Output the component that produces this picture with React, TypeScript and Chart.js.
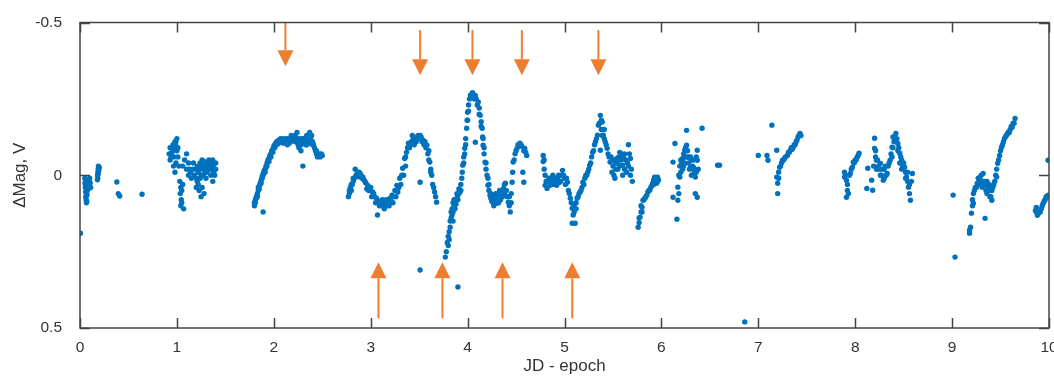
import React, { useEffect, useRef } from "react";
import { Chart, registerables } from "chart.js";

Chart.register(...registerables);

type P = [number, number];

// ---- data: [JD - epoch, delta mag V] ----
const night0: P[] = [
  [0.005, 0.19],
  [0.05, 0.01], [0.052, 0.025], [0.055, 0.04], [0.058, 0.055], [0.06, 0.07], [0.063, 0.08], [0.066, 0.09],
  [0.07, 0.085], [0.072, 0.065], [0.075, 0.05], [0.078, 0.035], [0.08, 0.02], [0.085, 0.045], [0.09, 0.03],
  [0.095, 0.02], [0.1, 0.01], [0.105, 0.025], [0.11, 0.04], [0.06, 0.02], [0.065, 0.035],
  [0.057, 0.03], [0.068, 0.06], [0.092, 0.04],
  [0.18, 0.015], [0.182, 0.0], [0.185, -0.01], [0.188, -0.02], [0.19, -0.03], [0.193, -0.015], [0.2, -0.025],
  [0.183, 0.01], [0.187, -0.005],
  [0.38, 0.022], [0.395, 0.06], [0.41, 0.068], [0.64, 0.062],
];

const night1: P[] = [
  [0.92, -0.07], [0.93, -0.09], [0.94, -0.06], [0.95, -0.075], [0.96, -0.1], [0.97, -0.085], [0.98, -0.11],
  [0.99, -0.095], [1.0, -0.12], [1.0, -0.08], [0.965, -0.03], [0.98, -0.01], [0.99, -0.04], [1.01, -0.06],
  [1.02, -0.03], [1.03, 0.02], [1.04, 0.04], [1.035, 0.06], [1.045, 0.08], [1.04, 0.1], [1.05, 0.05],
  [1.06, 0.03], [1.07, 0.11], [1.05, 0.09], [1.06, -0.03], [1.08, -0.05], [1.1, -0.07], [1.12, -0.04],
  [1.1, -0.02], [1.14, -0.01], [1.12, 0.0], [1.16, -0.02], [1.18, 0.0], [1.2, 0.01], [1.22, -0.01],
  [1.24, -0.04], [1.26, -0.05], [1.28, -0.045], [1.3, -0.03], [1.32, -0.02], [1.34, -0.03], [1.36, -0.04],
  [1.38, -0.035], [1.4, -0.02], [1.39, 0.0], [1.35, 0.0], [1.3, 0.01], [1.25, 0.0], [1.21, 0.02],
  [1.27, -0.02], [1.33, -0.05], [1.23, 0.05], [1.25, 0.07], [1.28, 0.06], [1.37, 0.02], [1.2, 0.04],
  [1.15, 0.01], [1.17, -0.04], [1.29, -0.01], [1.31, -0.04], [1.36, -0.02], [1.19, -0.02],
  [0.93, -0.05], [0.95, -0.09], [0.97, -0.06], [0.99, -0.11], [1.01, -0.09], [1.13, -0.02], [1.21, -0.03],
  [1.23, -0.02], [1.26, -0.03], [1.27, 0.0], [1.29, -0.04], [1.31, -0.01], [1.33, -0.03], [1.35, -0.02],
  [1.37, -0.05], [1.38, -0.01], [1.4, -0.04], [1.24, 0.01], [1.22, 0.03], [1.26, 0.04],
];

const night2: P[] = [
  [1.8, 0.09], [1.8, 0.1], [1.81, 0.08], [1.82, 0.07], [1.82, 0.075], [1.83, 0.06], [1.84, 0.05], [1.84, 0.04],
  [1.85, 0.035], [1.86, 0.025], [1.86, 0.03], [1.87, 0.015], [1.88, 0.005], [1.88, 0.01], [1.89, -0.005],
  [1.9, -0.015], [1.9, -0.01], [1.91, -0.02], [1.92, -0.03], [1.92, -0.025], [1.93, -0.04], [1.94, -0.045],
  [1.94, -0.05], [1.95, -0.055], [1.96, -0.06], [1.96, -0.065], [1.97, -0.07], [1.98, -0.075], [1.98, -0.08],
  [1.99, -0.085], [2.0, -0.09], [2.0, -0.095], [2.01, -0.1], [2.02, -0.1], [2.02, -0.105], [2.03, -0.11],
  [2.04, -0.105], [2.04, -0.11], [2.05, -0.115], [2.06, -0.11], [2.06, -0.115], [2.07, -0.12], [2.08, -0.115],
  [2.09, -0.11], [2.1, -0.12], [2.1, -0.105], [2.12, -0.115], [2.14, -0.1], [2.14, -0.11], [2.15, -0.12],
  [2.16, -0.105], [2.18, -0.13], [2.18, -0.12], [2.2, -0.115], [2.2, -0.125], [2.22, -0.13], [2.22, -0.11],
  [2.24, -0.14], [2.24, -0.12], [2.25, -0.1], [2.26, -0.12], [2.26, -0.09], [2.28, -0.08], [2.28, -0.1],
  [2.3, -0.03], [2.3, -0.11], [2.31, -0.12], [2.32, -0.11], [2.34, -0.13], [2.34, -0.1], [2.36, -0.105],
  [2.37, -0.14], [2.38, -0.12], [2.4, -0.1], [2.4, -0.11], [2.42, -0.09], [2.44, -0.08], [2.44, -0.07],
  [2.45, -0.06], [2.46, -0.065], [2.48, -0.06], [2.49, -0.07], [1.89, 0.12],
  [1.81, 0.09], [1.83, 0.07], [1.85, 0.045], [1.87, 0.025], [1.89, 0.0], [1.91, -0.01], [1.93, -0.03],
  [1.95, -0.045], [1.97, -0.06], [1.99, -0.075], [2.01, -0.09], [2.03, -0.1], [2.05, -0.105], [2.11, -0.11],
  [2.13, -0.12], [2.17, -0.11], [2.19, -0.115], [2.21, -0.12], [2.23, -0.115], [2.27, -0.11], [2.29, -0.12],
  [2.33, -0.1], [2.35, -0.115], [2.39, -0.13], [2.41, -0.1], [2.43, -0.08], [2.47, -0.07], [2.5, -0.065],
];

const night3: P[] = [
  [2.77, 0.07], [2.78, 0.06], [2.79, 0.04], [2.8, 0.05], [2.81, 0.03], [2.82, 0.02], [2.83, 0.01],
  [2.84, -0.02], [2.85, 0.0], [2.86, -0.005], [2.88, -0.01], [2.89, -0.006], [2.9, 0.0], [2.91, 0.01],
  [2.92, 0.006], [2.93, 0.015], [2.95, 0.025], [2.97, 0.033], [2.99, 0.045], [3.0, 0.04], [3.02, 0.055],
  [3.04, 0.07], [3.06, 0.075], [3.07, 0.13], [3.08, 0.085], [3.1, 0.09], [3.11, 0.1], [3.13, 0.088],
  [3.14, 0.11], [3.15, 0.095], [3.16, 0.08], [3.18, 0.082], [3.19, 0.1], [3.2, 0.075], [3.22, 0.065],
  [3.23, 0.09], [3.25, 0.05], [3.26, 0.07], [3.27, 0.033], [3.28, 0.055], [3.3, 0.01], [3.31, 0.03],
  [3.33, -0.023], [3.34, 0.0], [3.35, -0.055], [3.36, -0.03], [3.37, -0.075], [3.39, -0.105], [3.4, -0.09],
  [3.42, -0.11], [3.44, -0.12], [3.46, -0.115], [3.48, -0.125], [3.5, -0.12], [3.51, -0.13], [3.51, 0.023],
  [3.52, -0.125], [3.54, -0.115], [3.55, -0.1], [3.56, -0.11], [3.58, -0.098], [3.59, -0.07], [3.6, -0.08],
  [3.61, -0.043], [3.62, -0.02], [3.63, 0.0], [3.64, 0.03], [3.66, 0.055], [3.67, 0.07], [3.68, 0.088],
  [2.78, 0.05], [2.8, 0.03], [2.82, 0.01], [2.87, 0.005], [2.94, 0.02], [2.96, 0.045], [2.98, 0.05],
  [3.01, 0.07], [3.03, 0.06], [3.05, 0.09], [3.09, 0.1], [3.12, 0.08], [3.14, 0.095], [3.17, 0.1],
  [3.21, 0.085], [3.24, 0.07], [3.29, 0.04], [3.32, 0.0], [3.36, -0.06], [3.38, -0.09], [3.41, -0.1],
  [3.43, -0.13], [3.45, -0.1], [3.47, -0.11], [3.49, -0.13], [3.53, -0.11], [3.57, -0.09], [3.6, -0.05],
  [3.62, -0.01], [3.65, 0.04],
  [3.51, 0.31], [3.9, 0.366],
];

const night4: P[] = [
  [3.77, 0.268], [3.78, 0.25], [3.79, 0.22], [3.8, 0.2], [3.81, 0.185], [3.82, 0.17], [3.82, 0.15],
  [3.83, 0.14], [3.83, 0.12], [3.84, 0.11], [3.85, 0.09], [3.85, 0.12], [3.86, 0.1], [3.87, 0.085],
  [3.88, 0.08], [3.89, 0.075], [3.9, 0.065], [3.91, 0.06], [3.92, 0.055], [3.93, 0.03], [3.94, 0.01],
  [3.945, -0.01], [3.95, -0.033], [3.96, -0.06], [3.97, -0.088], [3.98, -0.12], [3.99, -0.154], [3.995, -0.18],
  [4.0, -0.206], [4.01, -0.23], [4.02, -0.25], [4.03, -0.262], [4.05, -0.27], [4.06, -0.265], [4.08, -0.26],
  [4.09, -0.25], [4.11, -0.24], [4.12, -0.22], [4.13, -0.196], [4.14, -0.175], [4.15, -0.154], [4.155, -0.125],
  [4.16, -0.098], [4.17, -0.07], [4.18, -0.043], [4.19, -0.02], [4.2, 0.0], [4.21, 0.033], [4.22, 0.05],
  [4.23, 0.065], [4.24, 0.075], [4.26, 0.088], [4.27, 0.07], [4.28, 0.08], [4.3, 0.092], [4.31, 0.075],
  [4.33, 0.065], [4.34, 0.08], [4.35, 0.05], [4.37, 0.043], [4.38, 0.06], [4.39, 0.026], [4.4, 0.05],
  [4.42, 0.088], [4.43, 0.07], [4.44, 0.12], [4.45, 0.06], [4.46, 0.023], [4.465, -0.01], [4.47, -0.043],
  [4.49, -0.07], [4.51, -0.088], [4.53, -0.095], [4.54, -0.105], [4.56, -0.095], [4.57, -0.01], [4.58, 0.023],
  [4.59, -0.088], [4.6, -0.075], [4.61, -0.065], [4.08, -0.108],
  [3.8, 0.23], [3.81, 0.21], [3.84, 0.13], [3.85, 0.15], [3.86, 0.08], [3.87, 0.11], [3.88, 0.095],
  [3.89, 0.06], [3.9, 0.08], [3.91, 0.045], [3.93, 0.05], [3.96, -0.04], [3.97, -0.07], [3.98, -0.1],
  [4.0, -0.18], [4.01, -0.21], [4.04, -0.255], [4.07, -0.25], [4.1, -0.23], [4.12, -0.2], [4.14, -0.16],
  [4.16, -0.12], [4.17, -0.09], [4.19, -0.04], [4.21, 0.01], [4.22, 0.03], [4.24, 0.06], [4.25, 0.085],
  [4.27, 0.1], [4.29, 0.06], [4.32, 0.09], [4.33, 0.05], [4.36, 0.07], [4.38, 0.03], [4.41, 0.07],
  [4.43, 0.1], [4.45, 0.09], [4.48, -0.05], [4.5, -0.08], [4.52, -0.1], [4.55, -0.1], [4.58, -0.08],
];

const night5: P[] = [
  [4.78, -0.065], [4.78, -0.045], [4.79, -0.02], [4.8, 0.0], [4.8, 0.033], [4.82, 0.043], [4.83, 0.02],
  [4.85, 0.033], [4.86, 0.01], [4.88, 0.0], [4.9, 0.02], [4.92, 0.033], [4.93, 0.01], [4.95, 0.023],
  [4.97, 0.0], [4.98, -0.016], [5.0, 0.01], [5.03, 0.023], [5.04, 0.05], [5.06, 0.075], [5.07, 0.09],
  [5.08, 0.108], [5.08, 0.157], [5.1, 0.12], [5.11, 0.157], [5.12, 0.09], [5.13, 0.075], [5.15, 0.06],
  [5.16, 0.055], [5.18, 0.04], [5.19, 0.023], [5.21, 0.01], [5.23, 0.0], [5.25, -0.02], [5.26, -0.033],
  [5.28, -0.06], [5.29, -0.075], [5.31, -0.1], [5.33, -0.12], [5.34, -0.131], [5.35, -0.164], [5.37, -0.196],
  [5.37, -0.082], [5.38, -0.18], [5.39, -0.174], [5.4, -0.131], [5.41, -0.15], [5.42, -0.11], [5.44, -0.088],
  [5.45, -0.07], [5.47, -0.043], [5.48, -0.06], [5.49, -0.01], [5.5, -0.03], [5.52, 0.01], [5.53, -0.02],
  [5.54, -0.055], [5.55, -0.04], [5.57, -0.075], [5.58, -0.05], [5.6, -0.033], [5.61, -0.06], [5.62, -0.02],
  [5.64, -0.01], [5.65, -0.04], [5.66, -0.1], [5.67, -0.07], [5.68, -0.055], [5.69, -0.02], [5.7, 0.02],
  [4.79, -0.05], [4.81, 0.02], [4.84, 0.01], [4.87, 0.02], [4.89, 0.03], [4.91, 0.01], [4.94, 0.0],
  [4.96, 0.02], [4.99, 0.0], [5.01, 0.03], [5.02, 0.01], [5.05, 0.06], [5.09, 0.13], [5.1, 0.1],
  [5.12, 0.11], [5.14, 0.07], [5.17, 0.05], [5.2, 0.03], [5.22, 0.0], [5.24, -0.01], [5.27, -0.04],
  [5.3, -0.08], [5.32, -0.11], [5.36, -0.17], [5.38, -0.15], [5.39, -0.13], [5.41, -0.12], [5.43, -0.1],
  [5.46, -0.06], [5.5, -0.05], [5.51, 0.0], [5.53, -0.04], [5.56, -0.06], [5.57, -0.03], [5.59, -0.07],
  [5.6, 0.0], [5.63, -0.05], [5.66, -0.03], [5.68, 0.0], [5.62, -0.07], [5.55, -0.02],
];

const night6: P[] = [
  [5.76, 0.17], [5.77, 0.155], [5.78, 0.137], [5.79, 0.12], [5.8, 0.105], [5.81, 0.082], [5.83, 0.075],
  [5.85, 0.065], [5.86, 0.055], [5.88, 0.049], [5.9, 0.035], [5.91, 0.026], [5.92, 0.015], [5.93, 0.006],
  [5.95, 0.026], [5.96, 0.006], [5.97, 0.015],
  [5.77, 0.14], [5.79, 0.1], [5.8, 0.12], [5.82, 0.08], [5.84, 0.07], [5.87, 0.05], [5.89, 0.04],
  [5.92, 0.03], [5.94, 0.01], [5.96, 0.02],
  [6.12, 0.072], [6.12, -0.043], [6.14, -0.104], [6.16, 0.144], [6.17, 0.082], [6.17, 0.039], [6.18, 0.06],
  [6.19, 0.006], [6.2, -0.01], [6.21, -0.039], [6.22, -0.055], [6.23, -0.03], [6.24, -0.082], [6.25, -0.06],
  [6.26, -0.098], [6.26, -0.147], [6.27, -0.059], [6.28, -0.04], [6.3, -0.026], [6.31, -0.05], [6.33, -0.026],
  [6.34, -0.01], [6.35, 0.006], [6.35, 0.06], [6.37, -0.049], [6.37, -0.082], [6.37, 0.072], [6.38, -0.02],
  [6.18, 0.0], [6.19, -0.03], [6.2, -0.05], [6.22, -0.02], [6.23, -0.07], [6.24, -0.04], [6.25, -0.09],
  [6.27, -0.08], [6.28, -0.06], [6.29, -0.02], [6.3, -0.06], [6.31, 0.0], [6.32, -0.03], [6.33, -0.05],
  [6.34, -0.02], [6.36, -0.01], [6.36, -0.06],
  [6.42, -0.154], [6.58, -0.033], [6.6, -0.033],
];

const night7: P[] = [
  [6.86, 0.48], [7.0, -0.065], [7.09, -0.065], [7.1, -0.049], [7.14, -0.164], [7.19, -0.082], [7.19, 0.006],
  [7.2, 0.026], [7.2, 0.06], [7.21, -0.01], [7.22, -0.026], [7.24, -0.04], [7.25, -0.049], [7.27, -0.055],
  [7.3, -0.065], [7.31, -0.075], [7.33, -0.082], [7.35, -0.085], [7.36, -0.092], [7.38, -0.1], [7.4, -0.115],
  [7.41, -0.125], [7.43, -0.137], [7.44, -0.13],
  [7.21, 0.01], [7.23, -0.03], [7.26, -0.05], [7.28, -0.06], [7.32, -0.075], [7.34, -0.09], [7.37, -0.1],
  [7.39, -0.11], [7.42, -0.13],
];

const night8: P[] = [
  [7.89, -0.01], [7.89, 0.006], [7.91, 0.016], [7.91, 0.072], [7.92, 0.03], [7.93, 0.06], [7.95, -0.006],
  [7.97, -0.026], [7.98, -0.043], [8.0, -0.05], [8.02, -0.059], [8.04, -0.072], [8.12, 0.043], [8.13, -0.023],
  [8.17, 0.016], [8.18, 0.049], [8.2, -0.121], [8.2, -0.088], [8.21, -0.06], [8.22, -0.049], [8.24, -0.03],
  [8.26, -0.039], [8.27, 0.0], [8.29, 0.016], [8.3, -0.02], [8.33, -0.006], [8.34, -0.03], [8.36, -0.049],
  [8.37, -0.07], [8.38, -0.092], [8.39, -0.125], [8.4, -0.11], [8.42, -0.137], [8.43, -0.12], [8.44, -0.104],
  [8.45, -0.09], [8.46, -0.072], [8.47, -0.06], [8.48, -0.049], [8.49, -0.03], [8.51, -0.026], [8.52, -0.01],
  [8.53, 0.006], [8.54, 0.02], [8.55, 0.039], [8.56, 0.06], [8.57, 0.082], [8.59, -0.006],
  [7.9, 0.0], [7.92, 0.05], [7.94, 0.0], [7.96, -0.02], [7.99, -0.04], [8.01, -0.05], [8.03, -0.065],
  [8.19, -0.03], [8.21, -0.08], [8.22, -0.02], [8.23, -0.05], [8.25, -0.02], [8.26, 0.0], [8.28, -0.02],
  [8.3, 0.01], [8.31, -0.03], [8.32, 0.0], [8.35, -0.04], [8.38, -0.06], [8.39, -0.09], [8.41, -0.12],
  [8.42, -0.11], [8.44, -0.08], [8.46, -0.04], [8.48, -0.02], [8.5, -0.04], [8.52, 0.01], [8.54, -0.01],
  [8.56, 0.03], [8.58, 0.02],
];

const night9: P[] = [
  [9.01, 0.065], [9.03, 0.268], [9.18, 0.18], [9.18, 0.19], [9.2, 0.124], [9.21, 0.1], [9.22, 0.092],
  [9.22, 0.06], [9.24, 0.04], [9.26, 0.026], [9.28, 0.015], [9.29, 0.006], [9.3, 0.03], [9.31, 0.039],
  [9.32, -0.006], [9.33, 0.02], [9.34, 0.141], [9.36, 0.06], [9.37, 0.04], [9.39, 0.049], [9.4, 0.07],
  [9.41, 0.082], [9.42, 0.039], [9.44, 0.02], [9.46, 0.006], [9.47, -0.039], [9.49, -0.065], [9.51, -0.092],
  [9.53, -0.11], [9.55, -0.125], [9.57, -0.135], [9.58, -0.141], [9.6, -0.15], [9.62, -0.157], [9.63, -0.17],
  [9.65, -0.186],
  [9.19, 0.17], [9.21, 0.08], [9.23, 0.05], [9.25, 0.04], [9.27, 0.01], [9.29, 0.03], [9.3, 0.0],
  [9.32, 0.02], [9.34, 0.03], [9.35, 0.05], [9.36, 0.02], [9.38, 0.03], [9.39, 0.07], [9.41, 0.05],
  [9.43, 0.03], [9.45, 0.0], [9.46, -0.02], [9.48, -0.05], [9.5, -0.08], [9.52, -0.1], [9.54, -0.12],
  [9.56, -0.13], [9.59, -0.14], [9.61, -0.16], [9.64, -0.17],
];

const night10: P[] = [
  [9.86, 0.115], [9.87, 0.12], [9.88, 0.131], [9.9, 0.12], [9.91, 0.12], [9.93, 0.1], [9.94, 0.092],
  [9.96, 0.08], [9.98, 0.072], [9.99, -0.049],
  [9.87, 0.105], [9.89, 0.125], [9.92, 0.11], [9.95, 0.085], [9.97, 0.07], [9.99, 0.065],
];

const xTicks = [0, 1, 2, 3, 4, 5, 6, 7, 8, 9, 10];
const yTicks = [-0.5, 0, 0.5];

// arrows (x position, tail magnitude, tip magnitude)
const arrowsDownX = [2.12, 3.51, 4.05, 4.56, 5.35];
const arrowsDownTail = [-0.5, -0.475, -0.475, -0.475, -0.475];
const arrowsDownTip = [-0.357, -0.327, -0.327, -0.327, -0.327];
const arrowsUpX = [3.08, 3.74, 4.36, 5.08];
const arrowsUpTail = [0.468, 0.468, 0.468, 0.468];
const arrowsUpTip = [0.285, 0.285, 0.285, 0.285];

const BLUE = "rgb(0,114,189)";
const ORANGE = "#ED7D31";
const FONT = "'Liberation Sans', Arial, sans-serif";

const overlay = {
  id: "overlay",
  afterDatasetsDraw(chart: any) {
    const { ctx, chartArea: a, scales } = chart;
    const x = scales.x;
    const y = scales.y;
    ctx.save();
    const drawArrow = (xv: number, tv: number, hv: number) => {
      const px = x.getPixelForValue(xv);
      const p0 = y.getPixelForValue(tv);
      const p1 = y.getPixelForValue(hv);
      const dir = Math.sign(p1 - p0);
      const head = 16;
      const hw = 8;
      ctx.strokeStyle = ORANGE;
      ctx.fillStyle = ORANGE;
      ctx.lineWidth = 2;
      ctx.beginPath();
      ctx.moveTo(px, p0);
      ctx.lineTo(px, p1 - dir * head);
      ctx.stroke();
      ctx.beginPath();
      ctx.moveTo(px - hw, p1 - dir * head);
      ctx.lineTo(px + hw, p1 - dir * head);
      ctx.lineTo(px, p1);
      ctx.closePath();
      ctx.fill();
    };
    arrowsDownX.forEach((v, i) => drawArrow(v, arrowsDownTail[i], arrowsDownTip[i]));
    arrowsUpX.forEach((v, i) => drawArrow(v, arrowsUpTail[i], arrowsUpTip[i]));

    ctx.strokeStyle = "#444";
    ctx.lineWidth = 1.5;
    ctx.strokeRect(a.left, a.top, a.right - a.left, a.bottom - a.top);
    ctx.beginPath();
    xTicks.forEach((v) => {
      const px = Math.round(x.getPixelForValue(v)) + 0.5;
      ctx.moveTo(px, a.top);
      ctx.lineTo(px, a.top + 10);
      ctx.moveTo(px, a.bottom);
      ctx.lineTo(px, a.bottom - 10);
    });
    yTicks.forEach((v) => {
      const py = Math.round(y.getPixelForValue(v)) + 0.5;
      ctx.moveTo(a.left, py);
      ctx.lineTo(a.left + 10, py);
      ctx.moveTo(a.right, py);
      ctx.lineTo(a.right - 10, py);
    });
    ctx.stroke();
    ctx.restore();
  },
};

export default function App() {
  const ref = useRef<HTMLCanvasElement | null>(null);
  useEffect(() => {
    document.body.style.margin = "0";
    if (!ref.current) return;
    const all: P[] = [
      ...night0, ...night1, ...night2, ...night3, ...night4, ...night5,
      ...night6, ...night7, ...night8, ...night9, ...night10,
    ];
    const chart = new Chart(ref.current, {
      type: "scatter",
      data: {
        datasets: [
          {
            data: all.map(([jd, m]) => ({ x: jd, y: m })),
            backgroundColor: BLUE,
            borderColor: BLUE,
            borderWidth: 0,
            pointRadius: 2.7,
          },
        ],
      },
      options: {
        animation: false,
        responsive: false,
        events: [],
        layout: { padding: { top: 22.5, right: 5, left: 0, bottom: 0 } },
        plugins: { legend: { display: false }, tooltip: { enabled: false } },
        scales: {
          x: {
            type: "linear",
            min: 0,
            max: 10,
            afterFit: (s: any) => {
              s.height = 49;
              s.paddingLeft = 0;
              s.paddingRight = 0;
            },
            afterBuildTicks: (s: any) => { s.ticks = xTicks.map((v) => ({ value: v })); },
            grid: { display: false, drawTicks: false },
            border: { display: false },
            ticks: { color: "#333", font: { family: FONT, size: 15.5 }, padding: 10, maxRotation: 0 },
            title: {
              display: true,
              text: "JD - epoch",
              color: "#333",
              font: { family: FONT, size: 17 },
              padding: { top: 0, bottom: 0 },
            },
          },
          y: {
            type: "linear",
            min: -0.5,
            max: 0.5,
            reverse: true,
            afterFit: (s: any) => {
              s.width = 80;
              s.paddingTop = 0;
              s.paddingBottom = 0;
            },
            afterBuildTicks: (s: any) => { s.ticks = yTicks.map((v) => ({ value: v })); },
            grid: { display: false, drawTicks: false },
            border: { display: false },
            ticks: {
              color: "#333",
              font: { family: FONT, size: 15.5 },
              padding: 18,
              callback: (v: any) => String(v),
            },
            title: {
              display: true,
              text: "\u0394Mag, V",
              color: "#333",
              font: { family: FONT, size: 17 },
              padding: { top: 10, bottom: 0 },
            },
          },
        },
      },
      plugins: [overlay],
    });
    return () => chart.destroy();
  }, []);
  return (
    <div style={{ width: 1054, height: 377 }}>
      <canvas ref={ref} width={1054} height={377} style={{ display: "block" }} />
    </div>
  );
}
